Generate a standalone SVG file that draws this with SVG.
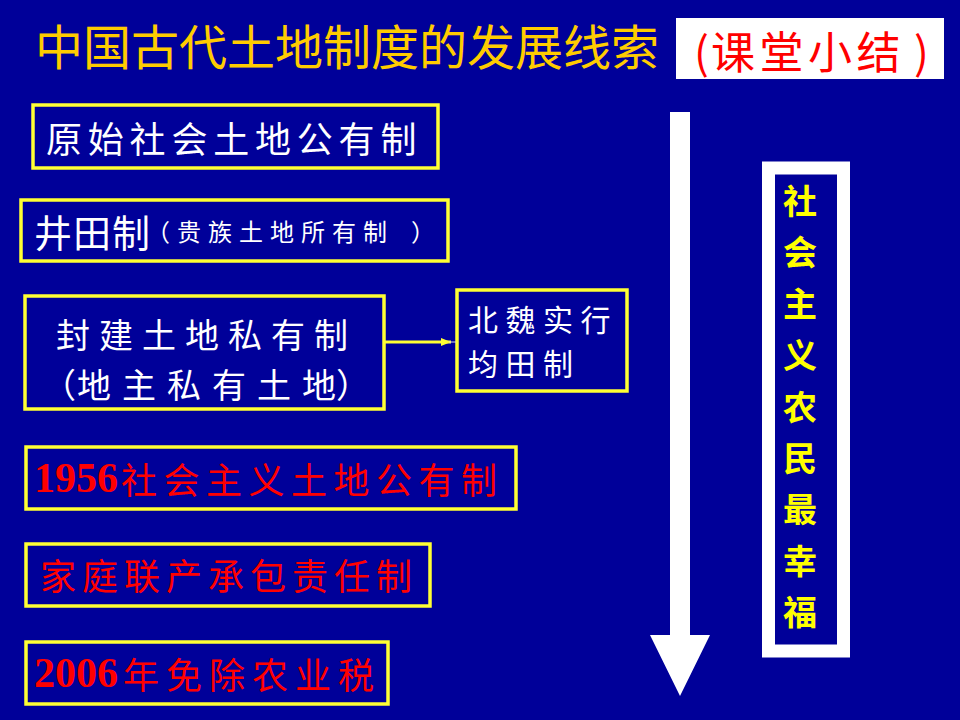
<svg xmlns="http://www.w3.org/2000/svg" width="960" height="720" viewBox="0 0 960 720">
<defs>
<style>
.box{fill:none;stroke:#FFFF33;stroke-width:3.5}
.cjk{font-family:"Noto Sans CJK SC","Noto Sans CJK TC",sans-serif}
.w{fill:#FFFFFF}
.r{fill:#FF0000}
.num{font-family:"Liberation Serif","Noto Sans CJK SC",serif;font-weight:bold}
</style>
<marker id="ah" markerWidth="10" markerHeight="8" refX="10" refY="4" orient="auto" markerUnits="userSpaceOnUse">
<path d="M0,0 L10,4 L0,8 Z" fill="#FFFF33"/>
</marker>
</defs>
<rect x="0" y="0" width="960" height="720" fill="#000099"/>

<g id="title">
<text class="cjk" x="35" y="44" font-size="48" fill="#FFCC00" dominant-baseline="central">中国古代土地制度的发展线索</text>
</g>
<g id="subtitle">
<rect x="676" y="18" width="268" height="61" fill="#FFFFFF"/>
<text class="cjk" y="50" font-size="44" fill="#FF0000" dominant-baseline="central"><tspan x="694">(</tspan><tspan x="711" letter-spacing="4.5">课堂小结</tspan><tspan x="914">)</tspan></text>
</g>

<g id="node1">
<rect class="box" x="33" y="105" width="405" height="63"/>
<text class="cjk w" x="46" y="137" font-size="36" letter-spacing="5.8" dominant-baseline="central">原始社会土地公有制</text>
</g>

<g id="node2">
<rect class="box" x="21" y="200" width="427" height="61"/>
<text class="cjk w" y="230" dominant-baseline="central"><tspan x="34" font-size="38" letter-spacing="1">井田制</tspan><tspan x="146" font-size="24" letter-spacing="7">（贵族土地所有制</tspan><tspan x="411" font-size="24">）</tspan></text>
</g>

<g id="node3">
<rect class="box" x="25" y="296" width="359" height="113"/>
<text class="cjk w" x="56" y="333" font-size="34" letter-spacing="9" dominant-baseline="central">封建土地私有制</text>
<text class="cjk w" y="383" font-size="34" dominant-baseline="central"><tspan x="42">（</tspan><tspan x="77" letter-spacing="11">地主私有土</tspan><tspan x="302">地</tspan><tspan x="336">）</tspan></text>
</g>

<g id="node4">
<rect class="box" x="457" y="290" width="170" height="101"/>
<text class="cjk w" x="468" y="318" font-size="30" letter-spacing="7.5" dominant-baseline="central">北魏实行</text>
<text class="cjk w" x="468" y="362" font-size="30" letter-spacing="7.5" dominant-baseline="central">均田制</text>
</g>

<g id="node5">
<rect class="box" x="26" y="447" width="490" height="62"/>
<text class="r" y="478" dominant-baseline="central"><tspan class="num" x="34" font-size="42">1956</tspan><tspan class="cjk" x="121" font-size="36" letter-spacing="6.5">社会主义土地公有制</tspan></text>
</g>

<g id="node6">
<rect class="box" x="26" y="544" width="404" height="62"/>
<text class="cjk r" x="40" y="574" font-size="36" letter-spacing="6" dominant-baseline="central">家庭联产承包责任制</text>
</g>

<g id="node7">
<rect class="box" x="26" y="642" width="362" height="62"/>
<text class="r" y="673" dominant-baseline="central"><tspan class="num" x="34" font-size="42">2006</tspan><tspan class="cjk" x="123" font-size="36" letter-spacing="7">年免除农业税</tspan></text>
</g>

<g id="timeline-arrow">
<polygon points="670,112 690,112 690,635 710,635 680,696 650,635 670,635" fill="#FFFFFF"/>
</g>

<g id="slogan">
<rect x="768.5" y="168" width="75" height="483" fill="#000099" stroke="#FFFFFF" stroke-width="13"/>
<g class="cjk" font-size="34" fill="#FFFF00" text-anchor="middle" dominant-baseline="central" font-weight="bold">
<text x="800" y="199">社</text>
<text x="800" y="250">会</text>
<text x="800" y="302">主</text>
<text x="800" y="353">义</text>
<text x="800" y="405">农</text>
<text x="800" y="456">民</text>
<text x="800" y="507">最</text>
<text x="800" y="559">幸</text>
<text x="800" y="610">福</text>
</g>
</g>

<g id="connectors">
<line x1="385" y1="342" x2="451" y2="342" stroke="#FFFF33" stroke-width="3" marker-end="url(#ah)"/>
<line x1="449" y1="342" x2="456" y2="342" stroke="#DDDDDD" stroke-width="1"/>
</g>
</svg>
